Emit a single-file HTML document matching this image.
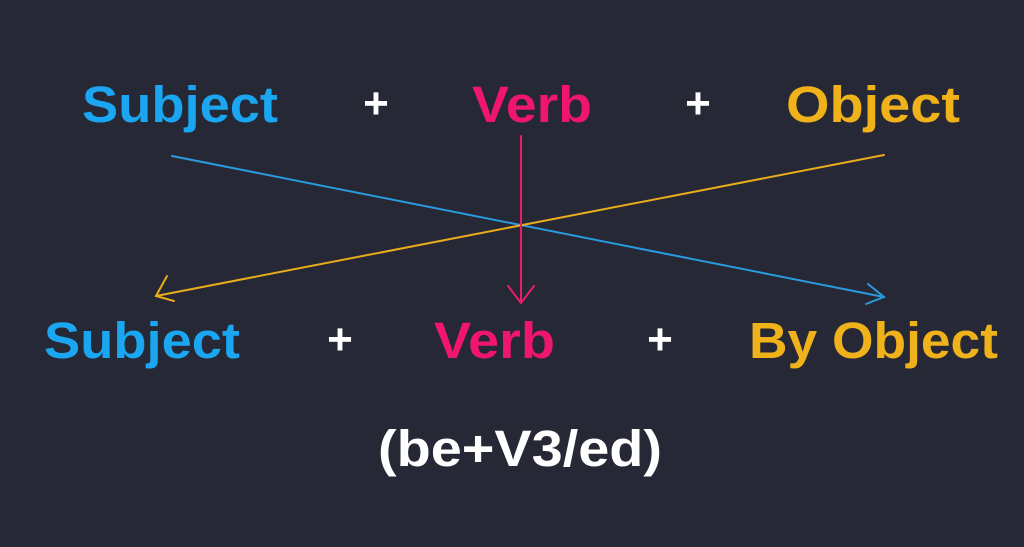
<!DOCTYPE html>
<html><head><style>
html,body{margin:0;padding:0;background:#262835;}
svg{display:block}
text{font-family:"Liberation Sans",sans-serif;font-weight:bold;}
</style></head><body>
<svg width="1024" height="547" viewBox="0 0 1024 547">
<rect width="1024" height="547" fill="#262835"/>
<g font-size="51">
<text x="82" y="122" fill="#1aa6f0" textLength="196" lengthAdjust="spacingAndGlyphs">Subject</text>
<text x="472" y="122" fill="#f0166e" textLength="120" lengthAdjust="spacingAndGlyphs">Verb</text>
<text x="786" y="122" fill="#f0b21a" textLength="174" lengthAdjust="spacingAndGlyphs">Object</text>

<text x="44" y="358" fill="#1aa6f0" textLength="196" lengthAdjust="spacingAndGlyphs">Subject</text>
<text x="434" y="358" fill="#f0166e" textLength="121" lengthAdjust="spacingAndGlyphs">Verb</text>
<text x="749" y="358" fill="#f0b21a" textLength="249" lengthAdjust="spacingAndGlyphs">By Object</text>

<text x="378" y="466" fill="#ffffff" textLength="284" lengthAdjust="spacingAndGlyphs">(be+V3/ed)</text>
</g>
<g font-size="44" fill="#ffffff" text-anchor="middle">
<text x="376" y="118">+</text>
<text x="698" y="118">+</text>
<text x="340" y="354">+</text>
<text x="660" y="354">+</text>
</g>
<g fill="none" stroke-width="2" stroke-linecap="round">
<line x1="172" y1="156" x2="884" y2="297" stroke="#2a9be0"/>
<polyline points="868,284 884,297 866,304" stroke="#2a9be0"/>
<line x1="884" y1="155" x2="156" y2="296" stroke="#e8ac1c"/>
<polyline points="167,276 156,296 174,301" stroke="#e8ac1c"/>
<line x1="521" y1="136" x2="521" y2="303" stroke="#e81d6e"/>
<polyline points="508,286 521,303 534,286" stroke="#e81d6e"/>
</g>
</svg>
</body></html>
